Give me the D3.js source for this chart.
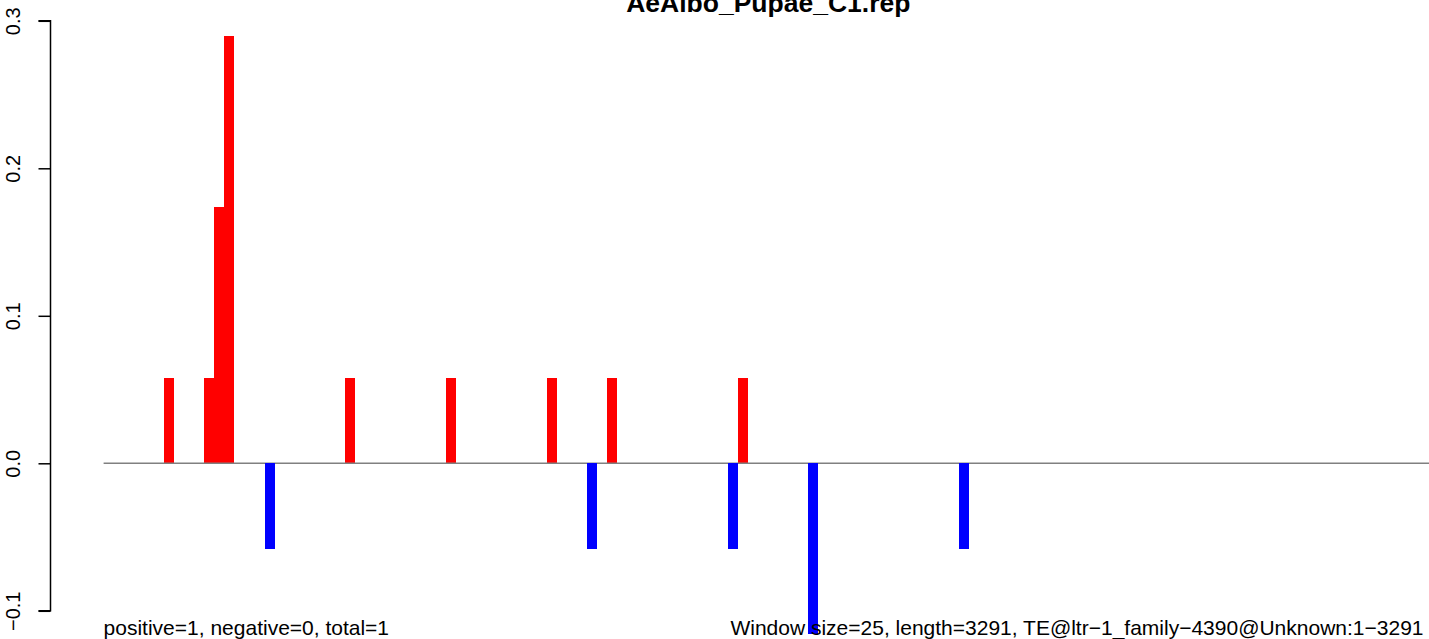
<!DOCTYPE html>
<html>
<head>
<meta charset="utf-8">
<script src="https://cdn.jsdelivr.net/npm/d3@7"></script>
<style>
  html, body { margin: 0; padding: 0; background: #ffffff; }
  svg { display: block; }
</style>
</head>
<body>
<svg id="chart" width="1429" height="639"></svg>
<script>
// ---- data ----
const chartTitle = "AeAlbo_Pupae_C1.rep";
const windowSize = 25;
const seqLength = 3291;
const posWindows = [6, 10, 11, 12, 24, 34, 44, 50, 63];
const posValues  = [0.058, 0.058, 0.174, 0.290, 0.058, 0.058, 0.058, 0.058, 0.058];
const negWindows = [16, 48, 62, 70, 85];
const negValues  = [-0.058, -0.058, -0.058, -0.116, -0.058];
const yTicks = [-0.1, 0.0, 0.1, 0.2, 0.3];
const yTickLabels = ["\u22120.1", "0.0", "0.1", "0.2", "0.3"];
const leftNote = "positive=1, negative=0, total=1";
const rightNote = "Window size=25, length=3291, TE@ltr\u22121_family\u22124390@Unknown:1\u22123291";

// ---- layout ----
const svg = d3.select("#chart");
const plotLeft = 103.6, plotRight = 1429;
const x = d3.scaleLinear().domain([0, seqLength]).range([plotLeft, plotRight]);
const y = d3.scaleLinear().domain([-0.1, 0.3]).range([610.8, 20.8]);
const font = "'Liberation Sans', Arial, Helvetica, sans-serif";

const posData = posWindows.map((w, i) => ({ w, v: posValues[i] }));
const negData = negWindows.map((w, i) => ({ w, v: negValues[i] }));

// positive bars
svg.append("g").selectAll("rect").data(posData).join("rect")
  .attr("x", d => x(d.w * windowSize))
  .attr("width", d => x((d.w + 1) * windowSize) - x(d.w * windowSize))
  .attr("y", d => y(d.v))
  .attr("height", d => y(0) - y(d.v))
  .attr("fill", "#ff0000")
  .attr("shape-rendering", "crispEdges");

// baseline
svg.append("line")
  .attr("x1", x(0)).attr("x2", x(seqLength))
  .attr("y1", y(0)).attr("y2", y(0))
  .attr("stroke", "#808080").attr("stroke-width", 1.6);

// negative bars
svg.append("g").selectAll("rect").data(negData).join("rect")
  .attr("x", d => x(d.w * windowSize))
  .attr("width", d => x((d.w + 1) * windowSize) - x(d.w * windowSize))
  .attr("y", y(0))
  .attr("height", d => y(d.v) - y(0))
  .attr("fill", "#0000ff")
  .attr("shape-rendering", "crispEdges");

// y axis
const axisX = 50.5;
const yAxis = d3.axisLeft(y).tickValues(yTicks)
  .tickFormat((d, i) => yTickLabels[i]).tickSize(12).tickPadding(0);
const gAxis = svg.append("g").attr("transform", `translate(${axisX},0)`).call(yAxis);
gAxis.select(".domain").attr("stroke", "#000").attr("stroke-width", 1.5)
  .attr("d", `M-12,${y(0.3)}H0V${y(-0.1)}H-12`);
gAxis.selectAll(".tick line").attr("stroke", "#000").attr("stroke-width", 1.5);
gAxis.selectAll(".tick text")
  .attr("x", 0).attr("dy", null)
  .attr("transform", `translate(${19.5 - axisX},0) rotate(-90)`)
  .attr("text-anchor", "middle")
  .attr("fill", "#000")
  .style("font-family", font).style("font-size", "20px");

// title
svg.append("text")
  .attr("x", (plotLeft + plotRight) / 2 + 2).attr("y", 12)
  .attr("text-anchor", "middle")
  .style("font-family", font).style("font-size", "26.5px").style("font-weight", "bold")
  .text(chartTitle);

// bottom notes
svg.append("text")
  .attr("x", plotLeft).attr("y", 634.5)
  .attr("text-anchor", "start")
  .style("font-family", font).style("font-size", "21px")
  .text(leftNote);
svg.append("text")
  .attr("x", 1423.5).attr("y", 634.5)
  .attr("text-anchor", "end")
  .style("font-family", font).style("font-size", "21px")
  .text(rightNote);
</script>
</body>
</html>
